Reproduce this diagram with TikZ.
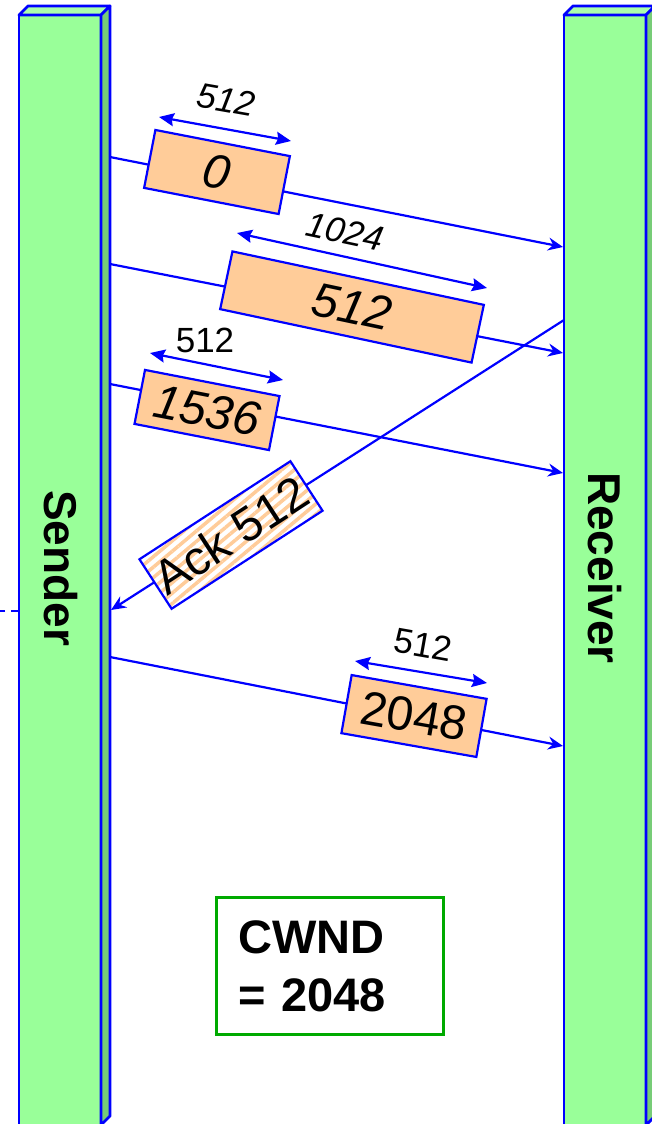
\documentclass[tikz,border=0pt]{standalone}
\usepackage{fontspec}
\setmainfont{Liberation Sans}
\usetikzlibrary{arrows.meta,patterns.meta}
\definecolor{wireblue}{RGB}{0,0,255}
\definecolor{slabfront}{RGB}{153,255,153}
\definecolor{slabtop}{RGB}{172,255,172}
\definecolor{slabside}{RGB}{119,204,119}
\definecolor{pktfill}{RGB}{255,204,153}
\definecolor{wndgreen}{RGB}{0,170,0}
\tikzset{
  slabedge/.style={draw=wireblue, line width=2.8pt, line join=round},
  barlbl/.style={font=\fontsize{46}{46}\selectfont\bfseries, rotate=-90, inner sep=0pt},
  pkt/.style={draw=wireblue, fill=pktfill, line width=2.2pt, minimum height=59pt,
              inner sep=0pt, font=\fontsize{48}{48}\selectfont},
  ackbox/.style={draw=wireblue, line width=2.2pt, minimum height=59pt, inner sep=0pt,
              preaction={fill=white}, pattern={Lines[angle=40,distance=8pt,line width=3.5pt]},
              pattern color=pktfill, font=\fontsize{48}{48}\selectfont},
  msg/.style={-{Stealth[length=15pt,width=13pt,inset=5pt]}, line width=2.2pt, draw=wireblue},
  sizearrow/.style={{Stealth[length=15pt,width=13pt,inset=2pt]}-{Stealth[length=15pt,width=13pt,inset=2pt]},
              line width=2.2pt, draw=wireblue},
  sizelbl/.style={font=\fontsize{35}{35}\selectfont, inner sep=0pt},
  wndbox/.style={draw=wndgreen, line width=2.2pt, minimum width=227pt, minimum height=137pt,
              text width=183pt, inner xsep=22pt, align=left,
              font=\fontsize{47}{58}\selectfont\bfseries},
}
\newcommand{\slab}[1]{%
  \begin{scope}[shift={(#1,0)}]
    \filldraw[slabedge, fill=slabfront] (0,15) rectangle (82,1126);
    \filldraw[slabedge, fill=slabtop] (0,15) -- (9,6) -- (91,6) -- (82,15) -- cycle;
    \filldraw[slabedge, fill=slabside] (82,15) -- (91,6) -- (91,1116) -- (82,1125) -- cycle;
  \end{scope}}

\begin{document}
\begin{tikzpicture}[x=1pt,y=-1pt]
  \useasboundingbox (0,0) rectangle (651,1124);
  \slab{19}
  \slab{564}
  \node[barlbl] (snd) at (61,568) {Sender};
  \node[barlbl] (rcv) at (605,568) {Receiver};

  % ends of the segments on both stations
  \coordinate (s1) at (110,157);  \coordinate (r1) at (563,247);
  \coordinate (s2) at (110,264);  \coordinate (r2) at (563,353);
  \coordinate (s3) at (110,384);  \coordinate (r3) at (563,473);
  \coordinate (r4) at (564,320);  \coordinate (s4) at (111,610);
  \coordinate (s5) at (110,657);  \coordinate (r5) at (563,746);
  \coordinate (far) at (0,611);   \coordinate (sl) at (19,611);

  \draw[wireblue, line width=2.2pt, dash pattern=on 8pt off 6pt] (sl) -- (far);

  \draw[msg] (s1) -- (r1);
  \node[pkt, minimum width=137pt, rotate=-11] (p0) at (217,172) {\textit{0}};
  \draw[msg] (s2) -- (r2);
  \node[pkt, minimum width=257pt, rotate=-12] (p512) at (352,307) {\textit{512}};
  \draw[msg] (s3) -- (r3);
  \node[pkt, minimum width=137pt, minimum height=55pt, rotate=-11] (p1536) at (207,410) {\textit{1536}};
  \draw[msg] (r4) -- (s4);
  \node[ackbox, minimum width=180pt, rotate=33] (ack) at (231,535) {Ack 512};
  \draw[msg] (s5) -- (r5);
  \node[pkt, minimum width=137pt, rotate=-10] (p2048) at (414,716) {2048};

  % segment sizes
  \coordinate (a1) at (159,117);  \coordinate (b1) at (291,141);
  \coordinate (a2) at (237,233);  \coordinate (b2) at (487,288);
  \coordinate (a3) at (150,353);  \coordinate (b3) at (283,380);
  \coordinate (a4) at (355,661);  \coordinate (b4) at (487,683);
  \draw[sizearrow] (a1) -- (b1);
  \draw[sizearrow] (a2) -- (b2);
  \draw[sizearrow] (a3) -- (b3);
  \draw[sizearrow] (a4) -- (b4);
  \node[sizelbl, rotate=-10] (w1) at (226,100) {\textit{512}};
  \node[sizelbl, rotate=-12] (w2) at (345,232) {\textit{1024}};
  \node[sizelbl] (w3) at (205,340) {512};
  \node[sizelbl, rotate=-10] (w4) at (423,645) {512};

  \node[wndbox] (cwnd) at (330,966) {CWND\\= 2048};
\end{tikzpicture}
\end{document}
